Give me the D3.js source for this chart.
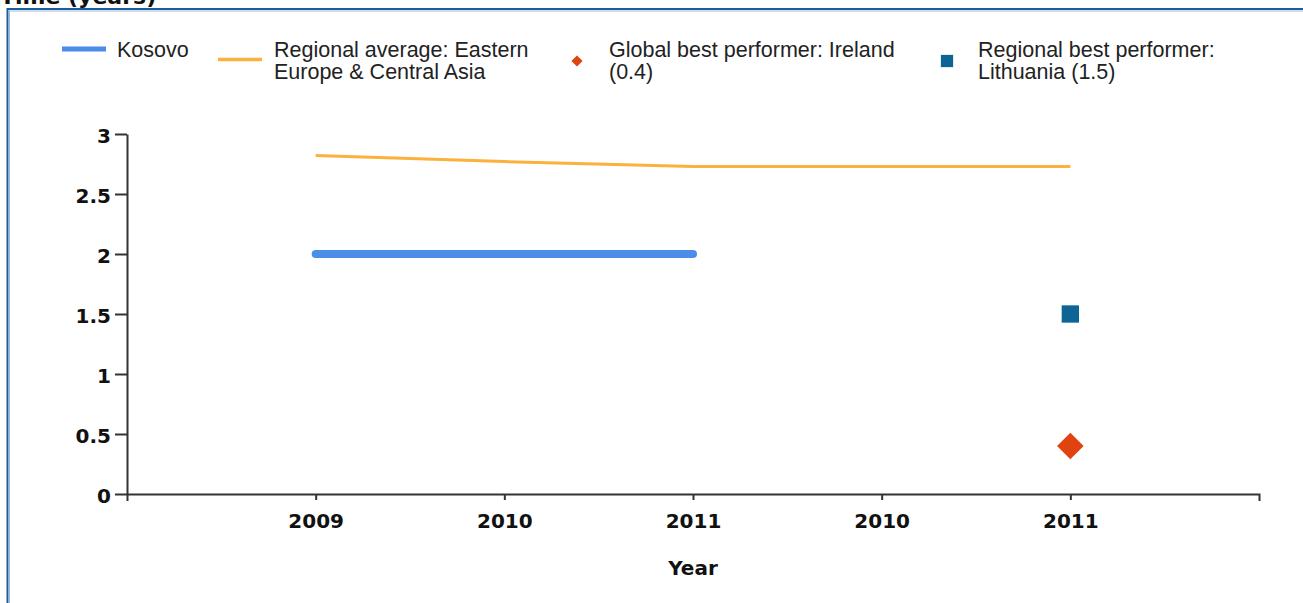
<!DOCTYPE html>
<html>
<head>
<meta charset="utf-8">
<script src="https://cdn.jsdelivr.net/npm/d3@7"></script>
<style>
  html, body { margin: 0; padding: 0; background: #fff; }
  svg { display: block; }
</style>
</head>
<body>
<svg id="chart" width="1303" height="603"></svg>
<script>
// Category slots along the x axis (the year sequence repeats)
const categories = ["2009", "2010", "2011", "2010", "2011"];
const kosovo = [2, 2, 2, null, null];
const regionalAverage = [2.82, 2.77, 2.73, 2.73, 2.73];
const globalBest = [null, null, null, null, 0.4];
const regionalBest = [null, null, null, null, 1.5];
const yTicks = [0, 0.5, 1, 1.5, 2, 2.5, 3];
const legendLabels = [
  ["Kosovo"],
  ["Regional average: Eastern", "Europe & Central Asia"],
  ["Global best performer: Ireland", "(0.4)"],
  ["Regional best performer:", "Lithuania (1.5)"]
];
const colors = { kosovo: "#4a8eea", regional: "#fbb13c", global: "#e0430f", regionalBest: "#0f6496" };

const svg = d3.select("#chart");
const labelFont = "'DejaVu Sans', sans-serif";
const legendFont = "'Liberation Sans', Arial, sans-serif";

// Title (clipped by the top of the frame)
svg.append("text").attr("x", 0).attr("y", 4)
  .attr("font-family", labelFont).attr("font-weight", "bold").attr("font-size", 22)
  .attr("fill", "#111").text("Time (years)");

// Panel frame
svg.append("rect").attr("x", 7.5).attr("y", 9).attr("width", 1310).attr("height", 620)
  .attr("fill", "#fff").attr("stroke", "#1d5c9c").attr("stroke-width", 2);
svg.append("rect").attr("x", 9.5).attr("y", 11).attr("width", 1310).attr("height", 620)
  .attr("fill", "none").attr("stroke", "#9dbbd9").attr("stroke-width", 1);

// Scales
const x = d3.scaleLinear().domain([0, categories.length + 1]).range([127, 1259]);
const y = d3.scaleLinear().domain([0, 3]).range([494, 134]);

// Axes
const xAxis = d3.axisBottom(x)
  .tickValues(d3.range(1, categories.length + 1))
  .tickFormat(i => categories[i - 1])
  .tickSize(6).tickSizeOuter(7).tickPadding(14);
const gx = svg.append("g").attr("transform", `translate(0,${y(0)})`).call(xAxis);

const yAxis = d3.axisLeft(y).tickValues(yTicks).tickFormat(d3.format(""))
  .tickSize(12).tickSizeOuter(0).tickPadding(4);
const gy = svg.append("g").attr("transform", `translate(${x(0)},0)`).call(yAxis);

[gx, gy].forEach(g => {
  g.selectAll("path, line").attr("stroke", "#333").attr("stroke-width", 2);
  g.selectAll("text").attr("font-family", labelFont).attr("font-weight", "bold")
    .attr("font-size", 20).attr("fill", "#111");
});
gy.selectAll("text").attr("dy", "0.42em");

svg.append("text").attr("x", x(3)).attr("y", 575).attr("text-anchor", "middle")
  .attr("font-family", labelFont).attr("font-weight", "bold").attr("font-size", 20)
  .attr("fill", "#111").text("Year");

// Series
const toPoints = arr => arr.map((v, i) => ({ i: i + 1, v })).filter(d => d.v != null);
const line = d3.line().x(d => x(d.i)).y(d => y(d.v));

svg.append("path").datum(toPoints(regionalAverage))
  .attr("d", line).attr("fill", "none").attr("stroke", colors.regional).attr("stroke-width", 3);

svg.append("path").datum(toPoints(kosovo))
  .attr("d", line).attr("fill", "none").attr("stroke", colors.kosovo)
  .attr("stroke-width", 8).attr("stroke-linecap", "round");

svg.selectAll(".gbest").data(toPoints(globalBest)).join("path")
  .attr("class", "gbest")
  .attr("transform", d => `translate(${x(d.i)},${y(d.v)})`)
  .attr("d", d3.symbol(d3.symbolDiamond2, 450))
  .attr("fill", colors.global);

svg.selectAll(".rbest").data(toPoints(regionalBest)).join("path")
  .attr("class", "rbest")
  .attr("transform", d => `translate(${x(d.i)},${y(d.v)})`)
  .attr("d", d3.symbol(d3.symbolSquare, 300))
  .attr("fill", colors.regionalBest);

// Legend
const legend = svg.append("g");
const textX = [117, 274, 609, 978];
legend.append("line").attr("x1", 62).attr("x2", 106).attr("y1", 49).attr("y2", 49)
  .attr("stroke", colors.kosovo).attr("stroke-width", 5);
legend.append("line").attr("x1", 218).attr("x2", 262).attr("y1", 59.5).attr("y2", 59.5)
  .attr("stroke", colors.regional).attr("stroke-width", 3.5);
legend.append("path").attr("transform", "translate(577,61)")
  .attr("d", d3.symbol(d3.symbolDiamond2, 80)).attr("fill", colors.global);
legend.append("path").attr("transform", "translate(947,61)")
  .attr("d", d3.symbol(d3.symbolSquare, 150)).attr("fill", colors.regionalBest);

legendLabels.forEach((lines, k) => {
  const t = legend.append("text").attr("x", textX[k]).attr("y", 57)
    .attr("font-family", legendFont).attr("font-size", 21.5).attr("fill", "#222");
  lines.forEach((s, j) => t.append("tspan").attr("x", textX[k]).attr("dy", j === 0 ? 0 : 22).text(s));
});
</script>
</body>
</html>
